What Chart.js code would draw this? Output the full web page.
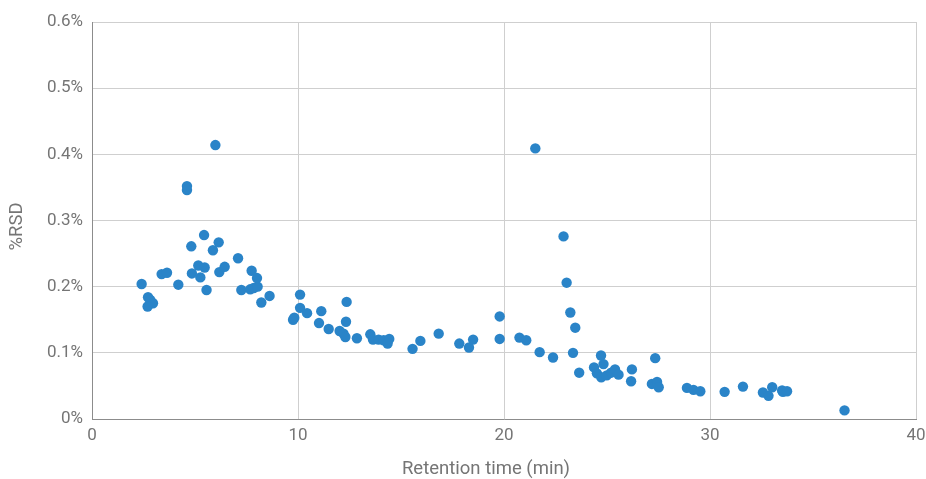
<!DOCTYPE html>
<html><head><meta charset="utf-8">
<script src="https://cdn.jsdelivr.net/npm/chart.js@4/dist/chart.umd.min.js"></script>
<style>html,body{margin:0;padding:0;background:#fff}#wrap{width:926px;height:479px}</style>
</head><body><div id="wrap"><canvas id="c" width="926" height="479"></canvas></div>
<script>
const retentionTime = [2.41,2.72,2.83,2.96,2.70,3.38,3.64,4.19,4.61,4.61,4.82,4.85,5.16,5.26,5.44,5.47,5.56,5.87,5.99,6.15,6.18,6.44,7.09,7.25,7.68,7.75,7.85,8.04,8.01,8.22,8.62,9.76,9.82,10.1,10.1,10.44,11.13,11.02,11.49,12.02,12.21,12.30,12.33,12.36,12.86,13.51,13.64,13.91,14.16,14.43,14.35,15.56,15.94,16.83,17.83,18.30,18.50,19.79,19.79,20.75,21.08,21.52,21.73,22.38,22.89,23.04,23.22,23.35,23.46,23.65,24.37,24.51,24.71,24.72,24.83,24.99,25.20,25.39,25.56,26.17,26.21,27.18,27.34,27.43,27.51,28.88,29.20,29.53,30.71,31.60,32.57,32.84,33.02,33.50,33.54,33.74,36.53];
const rsdPercent = [0.204,0.184,0.180,0.175,0.170,0.219,0.221,0.203,0.352,0.346,0.261,0.220,0.232,0.214,0.278,0.229,0.195,0.255,0.414,0.267,0.222,0.230,0.243,0.195,0.196,0.224,0.198,0.200,0.213,0.176,0.186,0.150,0.153,0.188,0.168,0.160,0.163,0.145,0.136,0.133,0.129,0.124,0.147,0.177,0.122,0.128,0.120,0.120,0.119,0.121,0.114,0.106,0.118,0.129,0.114,0.108,0.120,0.155,0.121,0.123,0.119,0.409,0.101,0.093,0.276,0.206,0.161,0.100,0.138,0.070,0.078,0.069,0.096,0.063,0.083,0.066,0.070,0.075,0.067,0.057,0.075,0.053,0.092,0.056,0.048,0.047,0.044,0.042,0.041,0.049,0.040,0.035,0.048,0.043,0.041,0.042,0.013];
const xTicks = [0,10,20,30,40];
const yTicks = [0,0.1,0.2,0.3,0.4,0.5,0.6];
const xTitle = 'Retention time (min)';
const yTitle = '%RSD';

const textColor = '#757575';
const tickFont = {family:'Roboto', size:17};
const titleFontCss = '18.5px Roboto';

const axisTitles = {
  id:'axisTitles',
  afterDraw(chart){
    const {ctx, chartArea:a} = chart;
    ctx.save();
    ctx.fillStyle = textColor;
    ctx.font = titleFontCss;
    ctx.textAlign = 'center';
    ctx.textBaseline = 'middle';
    ctx.fillText(xTitle, (a.left + a.right)/2 - 18, a.bottom + 50);
    ctx.translate(17, (a.top + a.bottom)/2 + 6);
    ctx.rotate(-Math.PI/2);
    ctx.fillText(yTitle, 0, 0);
    ctx.restore();
  }
};

new Chart(document.getElementById('c'), {
  type:'scatter',
  data:{datasets:[{
    data: retentionTime.map((x,i)=>({x, y: rsdPercent[i]})),
    backgroundColor:'#2a84c8', borderColor:'#2a84c8', pointRadius:5.2, pointHoverRadius:5.2, borderWidth:0
  }]},
  plugins:[axisTitles],
  options:{
    responsive:false, animation:false,
    layout:{padding:{top:22,right:0,left:0,bottom:0}},
    plugins:{legend:{display:false}, tooltip:{enabled:false}},
    scales:{
      x:{type:'linear', min:xTicks[0], max:xTicks[xTicks.length-1],
        afterBuildTicks: s => { s.ticks = xTicks.map(v=>({value:v})); },
        afterFit: s => { s.height = 60; s.paddingRight = 10; s.paddingLeft = 0; },
        grid:{color:'#cfcfcf', lineWidth:1, drawTicks:false},
        border:{color:'#8c8c8c', width:1},
        ticks:{color:textColor, font:tickFont, padding:7, maxRotation:0}
      },
      y:{type:'linear', min:yTicks[0], max:yTicks[yTicks.length-1],
        afterBuildTicks: s => { s.ticks = yTicks.map(v=>({value:v})); },
        afterFit: s => { s.width = 92; },
        grid:{color:'#cfcfcf', lineWidth:1, drawTicks:false},
        border:{color:'#8c8c8c', width:1},
        ticks:{color:textColor, font:tickFont, padding:9, callback: v => (v===0 ? '0' : v.toFixed(1)) + '%'}
      }
    }
  }
});
</script></body></html>
